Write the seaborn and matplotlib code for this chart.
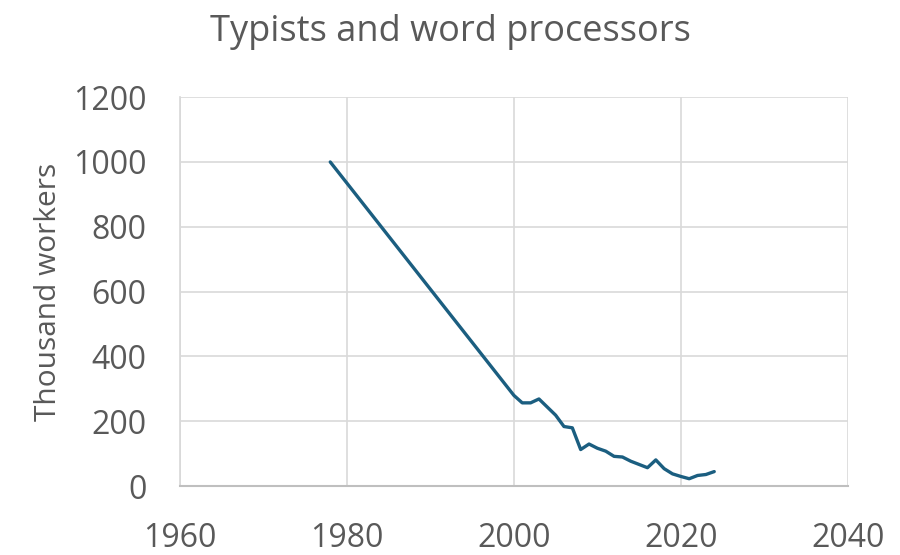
import numpy as np
import matplotlib
matplotlib.use("Agg")
import matplotlib.pyplot as plt
import pandas as pd
import seaborn as sns

# 打字员与文字处理员人数（千人）
years = [1978, 2000, 2001, 2002, 2003, 2004, 2005, 2006, 2007, 2008, 2009,
         2010, 2011, 2012, 2013, 2014, 2015, 2016, 2017, 2018, 2019, 2020,
         2021, 2022, 2023, 2024]
workers = [1000, 280, 257, 257, 269, 244, 219, 184, 180, 113, 130,
           117, 108, 92, 90, 77, 67, 57, 81, 54, 38, 30,
           23, 33, 36, 45]
x_ticks = [1960, 1980, 2000, 2020, 2040]
y_ticks = [0, 200, 400, 600, 800, 1000, 1200]

df = pd.DataFrame({'year': years, 'workers': workers})

sns.set_theme(style='white')
plt.rcParams['font.family'] = ['Open Sans', 'DejaVu Sans']

fig = plt.figure(figsize=(9, 5.55), dpi=100)
ax = fig.add_axes([0.2, 0.124, 0.742, 0.701])

sns.lineplot(data=df, x='year', y='workers', ax=ax, color='#1B5E80', linewidth=2.4)

ax.set_xlim(1960, 2040)
ax.set_ylim(0, 1200)
ax.set_xticks(x_ticks)
ax.set_yticks(y_ticks)
ax.grid(True, color='#d9d9d9', linewidth=1.2)
ax.tick_params(axis='both', labelsize=23, colors='#595959', length=0)
ax.tick_params(axis='y', pad=24)
ax.tick_params(axis='x', pad=26)

for side in ['top', 'right']:
    ax.spines[side].set_visible(False)
ax.spines['left'].set_color('#d9d9d9')
ax.spines['bottom'].set_color('#bfbfbf')
ax.spines['bottom'].set_linewidth(1.5)

ax.set_xlabel('')
ax.set_ylabel('Thousand workers', fontsize=21.5, color='#595959', labelpad=7)
fig.suptitle('Typists and word processors', fontsize=26, color='#595959', x=0.5, y=0.975)

fig.savefig('out.png', dpi=100)
